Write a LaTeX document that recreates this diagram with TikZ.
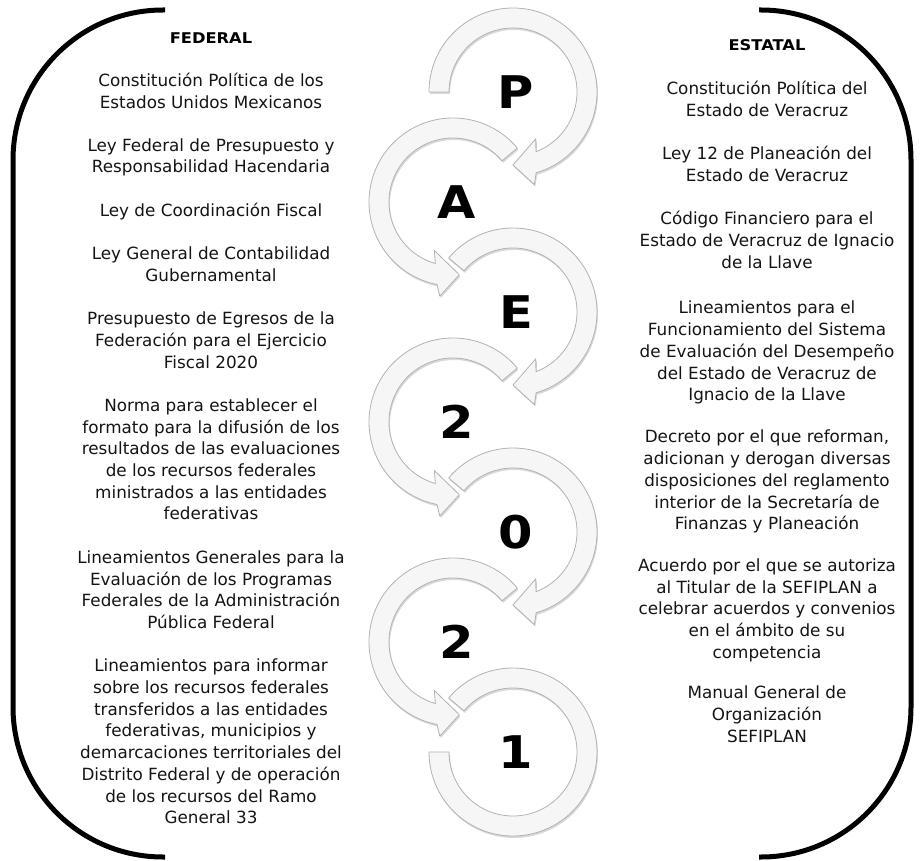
\documentclass[tikz,border=0pt]{standalone}
\usepackage{fontspec}
\setmainfont{DejaVu Sans}
\newfontfamily\headfont[FakeStretch=1.1]{DejaVu Sans}
\usetikzlibrary{shadows}

\tikzset{
  lawtext/.style={anchor=north, align=center, inner sep=0pt, text=black!92, font=\fontsize{16.8}{21.7}\selectfont},
  headtext/.style={inner sep=0pt, font=\headfont\bfseries\fontsize{14.8}{16}\selectfont},
  lettertext/.style={inner sep=0pt, font=\headfont\bfseries\fontsize{45}{45}\selectfont},
  bracket/.style={line width=5pt, rounded corners=150pt},
  swirlband/.style={fill=gray!7, draw=gray!60, line width=0.8pt, line join=round,
    drop shadow={shadow xshift=1pt, shadow yshift=-2pt, opacity=0.3}}
}

% band with arrow head: center, start angle, tip angle, direction
\newcommand\swirl[4]{%
  \pgfmathsetmacro\swOe{#3-(#4)*16}%
  \pgfmathsetmacro\swOb{#3-(#4)*13}%
  \pgfmathsetmacro\swIe{#3-(#4)*21}%
  \pgfmathsetmacro\swIb{#3-(#4)*26}%
  \draw[swirlband, shift={(#1)}] (#2:84) arc[start angle=#2, end angle=\swOe, radius=84]
    -- (\swOb:95) -- (#3:73) -- (\swIb:52) -- (\swIe:64)
    arc[start angle=\swIe, end angle=#2, radius=64] -- cycle;
}

\begin{document}
\begin{tikzpicture}[x=1pt, y=1pt]
  \useasboundingbox (0,0) rectangle (924,-861);

  % Brackets
  \draw[bracket] (165,-10) -- (13,-10) -- (13,-857) -- (165,-857);
  \draw[bracket] (759,-10) -- (911,-10) -- (911,-857) -- (759,-857);

  % Circle centres
  \coordinate (c1) at (513,-92);
  \coordinate (c2) at (453,-202);
  \coordinate (c3) at (513,-312);
  \coordinate (c4) at (453,-422);
  \coordinate (c5) at (513,-532);
  \coordinate (c6) at (453,-642);
  \coordinate (c7) at (513,-752);

  % Arrows
  \swirl{c1}{180}{-90}{-1}
  \swirl{c2}{40}{275}{1}
  \swirl{c3}{140}{-90}{-1}
  \swirl{c4}{40}{275}{1}
  \swirl{c5}{140}{-90}{-1}
  \swirl{c6}{40}{275}{1}
  \draw[swirlband, shift={(c7)}] (140:84) arc[start angle=140, end angle=-180, radius=84]
    -- (-180:64) arc[start angle=-180, end angle=140, radius=64] -- cycle;

  % Letters
  \node[lettertext] (lP) at (516,-92) {P};
  \node[lettertext] (lA) at (457,-202) {A};
  \node[lettertext] (lE) at (516,-312) {E};
  \node[lettertext] (l2a) at (457,-422) {2};
  \node[lettertext] (l0) at (516,-532) {0};
  \node[lettertext] (l2b) at (457,-642) {2};
  \node[lettertext] (l1) at (516,-752) {1};

  % Federal
  \node[headtext] (fedhead) at (211,-38) {FEDERAL};
  \node[lawtext] (fed1) at (211,-73) {Constitución Política de los\\Estados Unidos Mexicanos};
  \node[lawtext] (fed2) at (211,-138.1) {Ley Federal de Presupuesto y\\Responsabilidad Hacendaria};
  \node[lawtext] (fed3) at (211,-203.2) {Ley de Coordinación Fiscal};
  \node[lawtext] (fed4) at (211,-246.6) {Ley General de Contabilidad\\Gubernamental};
  \node[lawtext] (fed5) at (211,-311.7) {Presupuesto de Egresos de la\\Federación para el Ejercicio\\Fiscal 2020};
  \node[lawtext] (fed6) at (211,-398.5) {Norma para establecer el\\formato para la difusión de los\\resultados de las evaluaciones\\de los recursos federales\\ministrados a las entidades\\federativas};
  \node[lawtext] (fed7) at (211,-550.4) {Lineamientos Generales para la\\Evaluación de los Programas\\Federales de la Administración\\Pública Federal};
  \node[lawtext] (fed8) at (211,-658.9) {Lineamientos para informar\\sobre los recursos federales\\transferidos a las entidades\\federativas, municipios y\\demarcaciones territoriales del\\Distrito Federal y de operación\\de los recursos del Ramo\\General 33};

  % Estatal
  \node[headtext] (esthead) at (767,-45) {ESTATAL};
  \node[lawtext] (est1) at (767,-81) {Constitución Política del\\Estado de Veracruz};
  \node[lawtext] (est2) at (767,-146.1) {Ley 12 de Planeación del\\Estado de Veracruz};
  \node[lawtext] (est3) at (767,-211.2) {Código Financiero para el\\Estado de Veracruz de Ignacio\\de la Llave};
  \node[lawtext] (est4) at (767,-301) {Lineamientos para el\\Funcionamiento del Sistema\\de Evaluación del Desempeño\\del Estado de Veracruz de\\Ignacio de la Llave};
  \node[lawtext] (est5) at (767,-430) {Decreto por el que reforman,\\adicionan y derogan diversas\\disposiciones del reglamento\\interior de la Secretaría de\\Finanzas y Planeación};
  \node[lawtext] (est6) at (767,-558.4) {Acuerdo por el que se autoriza\\al Titular de la SEFIPLAN a\\celebrar acuerdos y convenios\\en el ámbito de su\\competencia};
  \node[lawtext] (est7) at (767,-686) {Manual General de\\Organización\\SEFIPLAN};
\end{tikzpicture}
\end{document}
